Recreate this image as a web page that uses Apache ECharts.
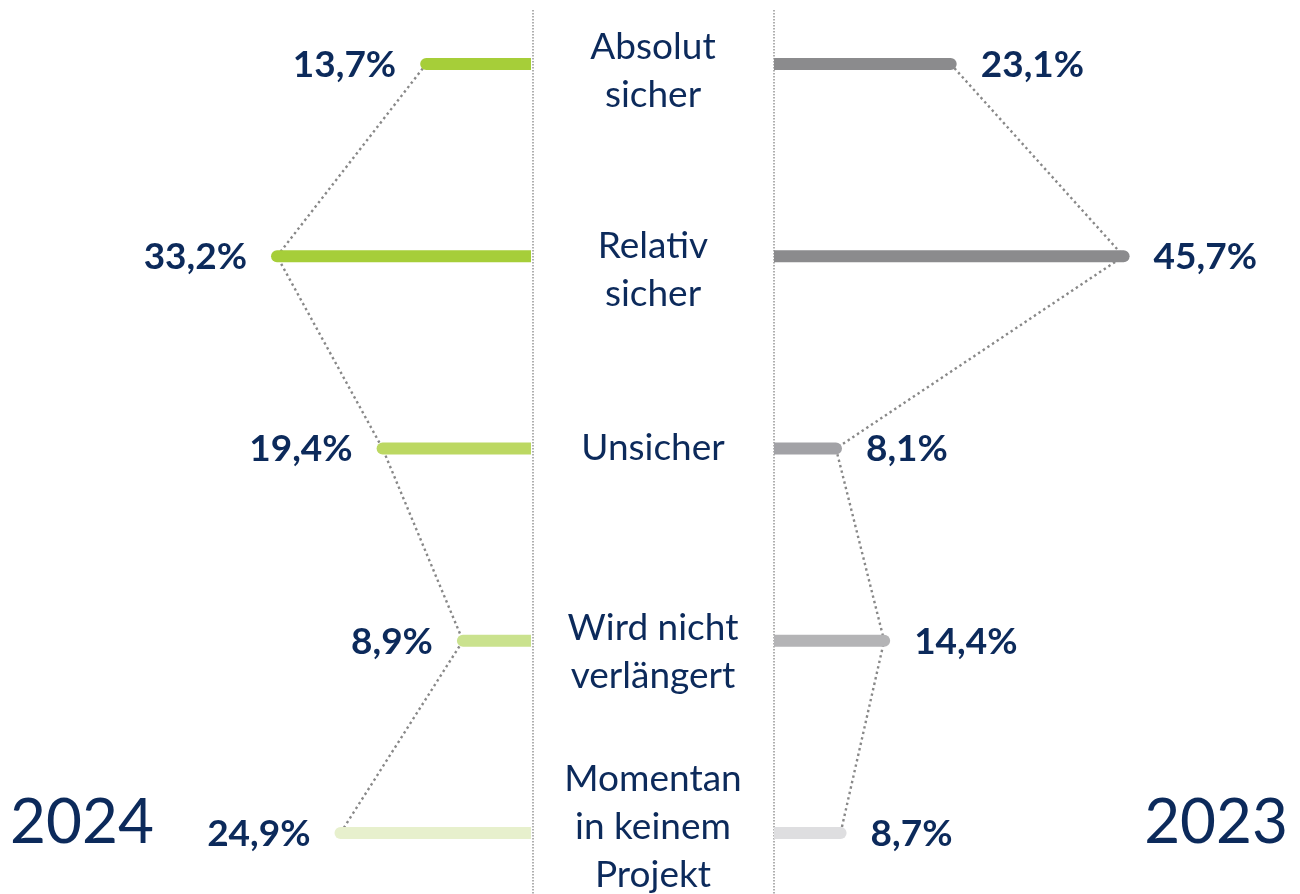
<!DOCTYPE html>
<html>
<head>
<meta charset="utf-8">
<script src="https://cdn.jsdelivr.net/npm/echarts@6/dist/echarts.min.js"></script>
<style>
html,body{margin:0;padding:0;background:#fff;}
#chart{width:1300px;height:894px;}
</style>
</head>
<body>
<div id="chart"></div>
<script>
var categories = ['Absolut\nsicher', 'Relativ\nsicher', 'Unsicher', 'Wird nicht\nverlängert', 'Momentan\nin keinem\nProjekt'];
var values2024 = [13.7, 33.2, 19.4, 8.9, 24.9];
var values2023 = [23.1, 45.7, 8.1, 14.4, 8.7];
var colors2024 = ['#a6ce39', '#a6ce39', '#bcd862', '#cae28e', '#e7f0cd'];
var colors2023 = ['#8b8b8d', '#8b8b8d', '#a2a2a6', '#b4b4b6', '#dedee0'];
var yearLeft = '2024';
var yearRight = '2023';

// layout only: vertical nudge (px) of each category label relative to its row
var labelShift = [7, 14, 0, 11, -6];

var NAVY = '#0c2a5b';
var SCALE_MAX = 50;
var PX_PER = 7.65;
var W = SCALE_MAX * PX_PER;
var LEFT_BASE = 531, RIGHT_BASE = 774;
var MID_X = 653;
var TOP = 64, BOTTOM_Y = 833;

function fmt(v){ return v.toFixed(1).replace('.', ',') + '%'; }

function makeBar(side, palette){
  return function(params, api){
    var v = api.value(0), c = api.value(1);
    var p0 = api.coord([0, c]), p1 = api.coord([v, c]);
    var r = 6, h = 12;
    var rect, text;
    if (side === 'left') {
      rect = {x: p1[0] - r, y: p1[1] - r, width: p0[0] - p1[0] + r, height: h, r: [r, 0, 0, r]};
      text = {x: p1[0] - 30, y: p1[1] + 1, text: fmt(v), align: 'right'};
    } else {
      rect = {x: p0[0], y: p1[1] - r, width: p1[0] - p0[0] + r, height: h, r: [0, r, r, 0]};
      text = {x: p1[0] + 30, y: p1[1] + 1, text: fmt(v), align: 'left'};
    }
    return {
      type: 'group',
      children: [
        {type: 'rect', shape: rect, style: {fill: palette[params.dataIndex]}},
        {type: 'text', style: {x: text.x, y: text.y, text: text.text, align: text.align, verticalAlign: 'middle',
          fill: NAVY, font: 'bold 37px Lato, "Open Sans", sans-serif'}}
      ]
    };
  };
}

function catLabel(params, api){
  var i = api.value(1);
  var p = api.coord([0, i]);
  return {
    type: 'text',
    style: {x: MID_X, y: p[1] + labelShift[params.dataIndex], text: categories[params.dataIndex],
      align: 'center', verticalAlign: 'middle', lineHeight: 48,
      fill: NAVY, font: '37px Lato, "Open Sans", sans-serif'}
  };
}

var leftData = values2024.map(function(v, i){ return [v, i]; });
var rightData = values2023.map(function(v, i){ return [v, i]; });
var catData = categories.map(function(c, i){ return [0, i]; });

var chart = echarts.init(document.getElementById('chart'), null, {renderer: 'canvas'});
chart.setOption({
  animation: false,
  backgroundColor: '#ffffff',
  grid: [
    {left: LEFT_BASE - W, top: TOP, width: W, height: BOTTOM_Y - TOP, containLabel: false, outerBoundsMode: 'none'},
    {left: RIGHT_BASE, top: TOP, width: W, height: BOTTOM_Y - TOP, containLabel: false, outerBoundsMode: 'none'}
  ],
  xAxis: [
    {gridIndex: 0, type: 'value', min: 0, max: SCALE_MAX, inverse: true, show: false},
    {gridIndex: 1, type: 'value', min: 0, max: SCALE_MAX, show: false}
  ],
  yAxis: [
    {gridIndex: 0, type: 'category', data: categories, boundaryGap: false, inverse: true, show: false},
    {gridIndex: 1, type: 'category', data: categories, boundaryGap: false, inverse: true, show: false}
  ],
  graphic: [
    {type: 'line', shape: {x1: 533, y1: 10, x2: 533, y2: 894}, style: {stroke: '#9c9c9c', lineWidth: 1.6, lineDash: [1.5, 1.5]}, z: 0},
    {type: 'line', shape: {x1: 774, y1: 10, x2: 774, y2: 894}, style: {stroke: '#9c9c9c', lineWidth: 1.6, lineDash: [1.5, 1.5]}, z: 0},
    {type: 'text', left: 10, top: 792, style: {text: yearLeft, fill: NAVY, font: '62px Lato, "Open Sans", sans-serif'}},
    {type: 'text', right: 12, top: 792, style: {text: yearRight, fill: NAVY, font: '62px Lato, "Open Sans", sans-serif'}}
  ],
  series: [
    {type: 'line', xAxisIndex: 0, yAxisIndex: 0, data: leftData, symbol: 'none', z: 1,
      lineStyle: {color: '#888888', width: 2.4, type: [2.4, 3.2], cap: 'butt'}},
    {type: 'line', xAxisIndex: 1, yAxisIndex: 1, data: rightData, symbol: 'none', z: 1,
      lineStyle: {color: '#888888', width: 2.4, type: [2.4, 3.2], cap: 'butt'}},
    {type: 'custom', xAxisIndex: 0, yAxisIndex: 0, data: leftData, renderItem: makeBar('left', colors2024), z: 3,
      encode: {x: 0, y: 1}},
    {type: 'custom', xAxisIndex: 1, yAxisIndex: 1, data: rightData, renderItem: makeBar('right', colors2023), z: 3,
      encode: {x: 0, y: 1}},
    {type: 'custom', xAxisIndex: 1, yAxisIndex: 1, data: catData, renderItem: catLabel, z: 4, clip: false,
      encode: {x: 0, y: 1}}
  ]
});
</script>
</body>
</html>
